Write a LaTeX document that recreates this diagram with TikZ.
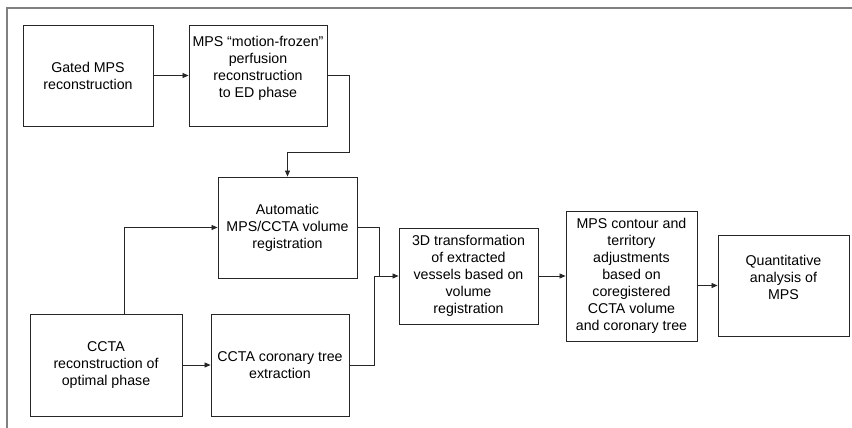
\documentclass[tikz,border=0pt]{standalone}
\usepackage{fontspec}
\setmainfont{Liberation Sans}
\usetikzlibrary{arrows.meta}

\begin{document}
\begin{tikzpicture}[x=1pt,y=-1pt,
    every node/.style={font=\fontsize{14.2}{17}\selectfont},
    box/.style={draw=black!85,line width=0.9pt,align=center,inner sep=2pt},
    arr/.style={draw=black!85,line width=0.8pt,-{Triangle[length=6pt,width=5pt]}},
    link/.style={draw=black!85,line width=0.8pt}]
    \useasboundingbox (0,0) rectangle (852,428);

    % Frame (open to the right and the bottom)
    \draw[gray,line width=1.4pt] (7,430) -- (7,8) -- (854,8);

    % MPS branch
    \node[box,minimum width=130,minimum height=101] (gated) at (88,75.5)
      {Gated MPS\\reconstruction};
    \node[box,minimum width=138,minimum height=101,text depth=17pt] (frozen) at (258,75.5)
      {MPS “motion-frozen”\\perfusion\\reconstruction\\to ED phase};
    \node[box,minimum width=139,minimum height=101] (auto) at (287.5,227.5)
      {Automatic\\MPS/CCTA volume\\registration};

    % CCTA branch
    \node[box,minimum width=152,minimum height=102] (ccta) at (106,365)
      {CCTA\\reconstruction of\\optimal phase};
    \node[box,minimum width=138,minimum height=102] (tree) at (280,365)
      {CCTA coronary tree\\extraction};

    % Fused steps
    \node[box,minimum width=139,minimum height=96] (trans) at (468.5,276)
      {3D transformation\\of extracted\\vessels based on\\volume\\registration};
    \node[box,minimum width=131,minimum height=130] (contour) at (631.5,276)
      {MPS contour and\\territory\\adjustments\\based on\\coregistered\\CCTA volume\\and coronary tree};
    \node[box,minimum width=131,minimum height=101,text depth=17pt] (quant) at (783.5,285.5)
      {Quantitative\\analysis of\\MPS};

    % Bends of the connectors
    \coordinate (bend) at (349,152);
    \coordinate (merge) at (374,276);

    % Connectors
    \draw[arr] (gated) -- (frozen);
    \draw[arr] (frozen.east) -| (bend) -| (auto.north);
    \draw[arr] ([xshift=18pt]ccta.north) |- (auto.west);
    \draw[arr] (ccta) -- (tree);
    \draw[link] (tree.east) -| (merge);
    \draw[link] (auto.east) -| ([xshift=5pt]merge);
    \draw[arr] (merge) -- (trans.west);
    \draw[arr] (trans) -- (contour);
    \draw[arr] (contour.east |- quant.west) -- (quant.west);

  \end{tikzpicture}
\end{document}
